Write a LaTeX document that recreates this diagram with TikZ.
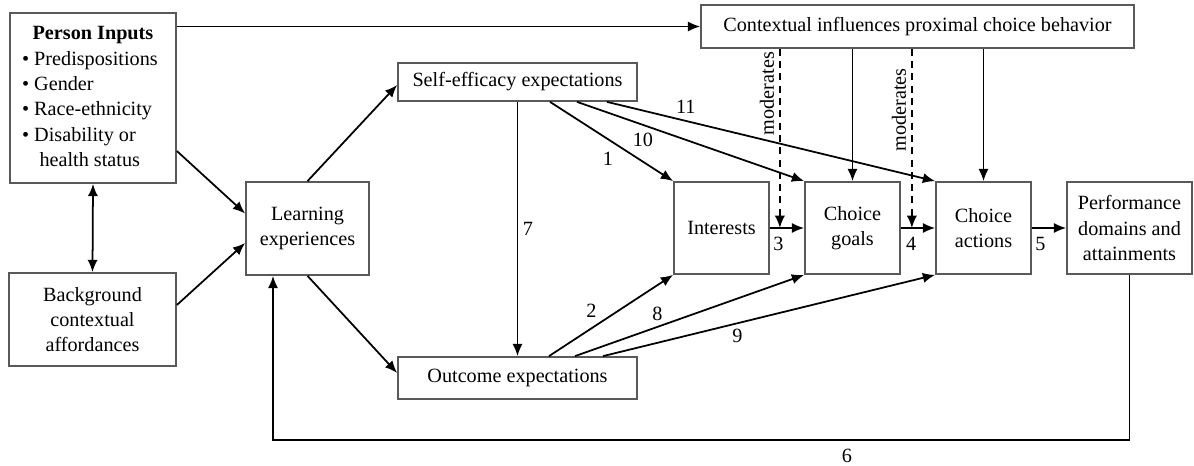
\documentclass[tikz,border=0pt]{standalone}
\usepackage{fontspec}
\setmainfont{Liberation Serif}
\usetikzlibrary{arrows.meta,calc}

\newcommand{\boxline}{black!65}
\newcommand{\txtsize}{\fontsize{11.5}{14.4}\selectfont}
\tikzset{every path/.style={line width=1pt},
  >={Latex[length=7pt,width=5.8pt]},
  box/.style={draw=\boxline, fill=white, inner sep=2pt, align=center, font=\txtsize},
  num/.style={font=\txtsize, inner sep=1pt},
  modline/.style={->, dash pattern=on 4pt off 3pt},
  modtext/.style={font=\txtsize, inner sep=1pt, rotate=90}}

\begin{document}
\begin{tikzpicture}[x=.02cm, y=-.02cm]
\useasboundingbox (0,0) rectangle (1194,466);

\node[box, minimum width=3.32cm, minimum height=3.4cm] (person) at (93,98)
  {\begin{tabular}{@{}l@{\ }l@{}}
   \multicolumn{2}{c}{\textbf{Person Inputs}}\\
   \textbullet & Predispositions\\
   \textbullet & Gender\\
   \textbullet & Race-ethnicity\\
   \textbullet & Disability or\\
               & \hspace{3pt}health status
   \end{tabular}};
\node[box, minimum width=3.34cm, minimum height=1.86cm] (background) at (92.5,319.5) {Background\\contextual\\affordances};
\node[box, minimum width=2.46cm, minimum height=1.86cm] (learning) at (307.5,228.5) {Learning\\experiences};
\node[box, minimum width=4.78cm, minimum height=.76cm] (selfeff) at (517.5,82) {Self-efficacy expectations};
\node[box, minimum width=4.78cm, minimum height=.84cm] (outcome) at (517.5,378) {Outcome expectations};
\node[box, minimum width=1.9cm, minimum height=1.84cm] (interests) at (721.5,228) {Interests};
\node[box, minimum width=1.9cm, minimum height=1.84cm] (goals) at (852.5,228) {Choice\\goals};
\node[box, minimum width=1.9cm, minimum height=1.84cm] (actions) at (983.5,228) {Choice\\actions};
\node[box, minimum width=2.5cm, minimum height=1.84cm] (perform) at (1129.5,228) {Performance\\domains and\\attainments};
\node[box, minimum width=8.66cm, minimum height=.86cm] (context) at (917.5,26.5) {Contextual influences proximal choice behavior};

\coordinate (mod1) at ($(interests.east)+(10,0)$);
\coordinate (mod2) at ($(goals.east)+(11,0)$);
\coordinate (fb) at (273,440);

\draw[->] (person.north east |- context.west) -- (context.west);
\draw[->] ($(person.east)+(0,53)$) -- ($(learning.west)+(0,-15)$);
\draw[->] ($(background.east)+(0,-14.5)$) -- ($(learning.west)+(0,14.5)$);
\draw[<->] (person.south) -- (background.north);
\draw[->] (learning.north) -- ($(selfeff.west)+(0,3)$);
\draw[->] (learning.south) -- ($(outcome.west)+(0,-5)$);

\draw[->] (selfeff.south) -- (outcome.north) node[num, midway, right=1.5pt] {7};
\draw[->] ($(selfeff.south)+(32.5,0)$) -- (interests.north west) node[num, pos=.47, below=6pt] {1};
\draw[->] ($(selfeff.south)+(59.5,0)$) -- (goals.north west) node[num, pos=.29, below=3.3pt] {10};
\draw[->] ($(selfeff.south)+(89.5,0)$) -- (actions.north west) node[num, pos=.24, above=2.8pt] {11};

\draw[->] ($(outcome.north)+(31.5,0)$) -- (interests.south west) node[num, pos=.56, left=11pt] {2};
\draw[->] ($(outcome.north)+(57.5,0)$) -- (goals.south west) node[num, pos=.36, above=1.9pt] {8};
\draw[->] ($(outcome.north)+(85.5,0)$) -- (actions.south west) node[num, pos=.405, below=1.7pt] {9};

\draw[->] (interests) -- (goals) node[num, pos=.25, below=3.6pt] {3};
\draw[->] (goals) -- (actions) node[num, pos=.3, below=3.6pt] {4};
\draw[->] (actions) -- (perform) node[num, pos=.25, below=3.6pt] {5};

\draw[->] (context.south -| goals.north) -- (goals.north);
\draw[->] (context.south -| actions.north) -- (actions.north);
\draw[modline] (context.south -| mod1) -- (mod1) node[modtext, pos=.25, above=1.8pt] {moderates};
\draw[modline] (context.south -| mod2) -- (mod2) node[modtext, pos=.34, above=1.8pt] {moderates};

\draw[->] (perform.south) |- (fb) node[num, pos=.665, below=3.6pt] {6} -- (fb |- learning.south);
\end{tikzpicture}
\end{document}
